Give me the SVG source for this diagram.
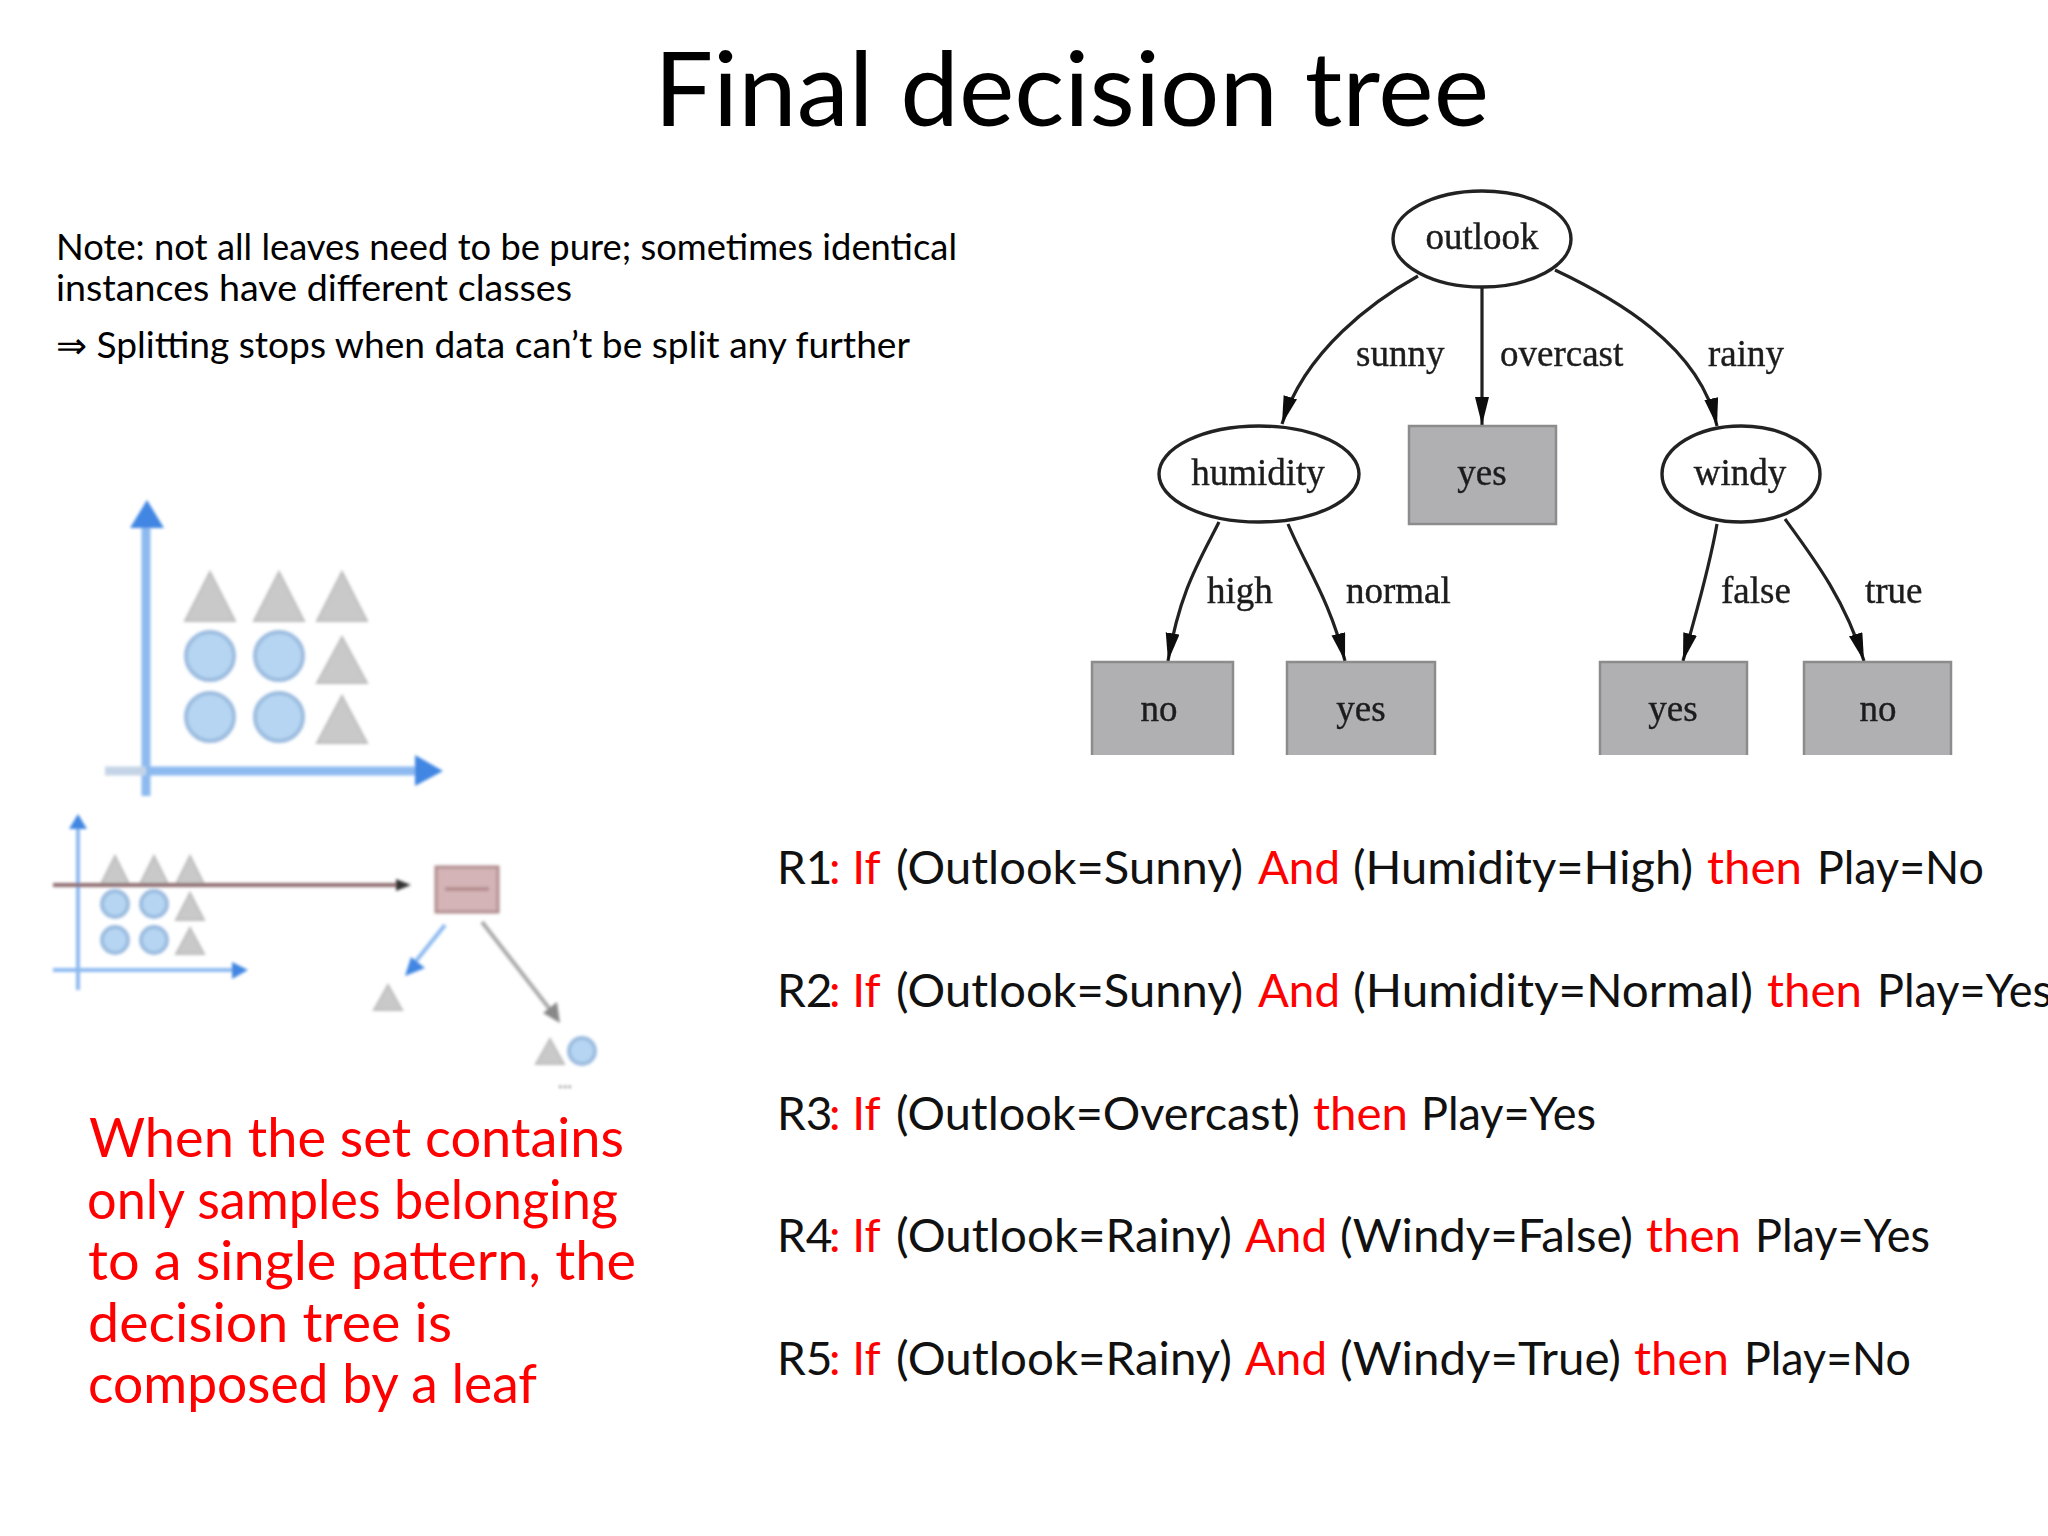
<svg xmlns="http://www.w3.org/2000/svg" width="2048" height="1536" viewBox="0 0 2048 1536">
<style>
.t{font-family:"Liberation Serif",serif;font-size:37px;fill:#1c1c1c;stroke:#1c1c1c;stroke-width:.4}
.node{fill:#fff;stroke:#222;stroke-width:3.4}
.leaf{fill:#b0b0b3;stroke:#8c8c8c;stroke-width:2.5}
.edge{fill:none;stroke:#222;stroke-width:3.2;marker-end:url(#ah)}
.note{font-family:"Lato",sans-serif;font-size:36px;fill:#000}
.red{font-family:"Lato",sans-serif;font-size:54px;fill:#f00}
.rule{font-family:"Lato",sans-serif;font-size:46px;fill:#111}
.rule .k{fill:#f00}
.tri{fill:#c9c9c9;stroke:#bdbdbd;stroke-width:2}
.cir{fill:#b5d5f2;stroke:#9bbbdf;stroke-width:4}
.ax{stroke:#8cb9f0;fill:none}
.bh{fill:#3f86e2}
</style>
<defs>
<marker id="ah" markerUnits="userSpaceOnUse" markerWidth="30" markerHeight="16" refX="28" refY="7" orient="auto"><path d="M0,0L28,7L0,14Z" fill="#111"/></marker>
<filter id="soft" x="-5%" y="-5%" width="110%" height="110%"><feGaussianBlur stdDeviation="1.5"/></filter>
<filter id="soft2" x="-5%" y="-5%" width="110%" height="110%"><feGaussianBlur stdDeviation="0.6"/></filter>
</defs>
<rect width="2048" height="1536" fill="#fff"/>
<text id="title" x="654" y="126" font-family="Lato,sans-serif" font-size="102" fill="#000" textLength="835" lengthAdjust="spacingAndGlyphs">Final decision tree</text>
<g id="note">
<text class="note" x="56" y="260" textLength="901" lengthAdjust="spacingAndGlyphs">Note: not all leaves need to be pure; sometimes identical</text>
<text class="note" x="56" y="301" textLength="516" lengthAdjust="spacingAndGlyphs">instances have different classes</text>
<text class="note" x="56" y="358" textLength="854" lengthAdjust="spacingAndGlyphs">⇒ Splitting stops when data can’t be split any further</text>
</g>
<g id="tree" filter="url(#soft2)">
<g id="connectors">
<path class="edge" d="M1418,276C1375,300 1305,350 1282,424"/>
<path class="edge" d="M1482,288V425"/>
<path class="edge" d="M1555,270C1612,297 1700,345 1717,426"/>
<path class="edge" d="M1219,522C1200,560 1180,590 1168,661"/>
<path class="edge" d="M1288,524C1305,565 1330,600 1345,661"/>
<path class="edge" d="M1717,524C1708,575 1695,615 1683,661"/>
<path class="edge" d="M1785,519C1815,560 1845,600 1864,661"/>
</g>
<g id="edge-labels">
<text class="t" x="1356" y="366">sunny</text>
<text class="t" x="1500" y="366">overcast</text>
<text class="t" x="1708" y="366">rainy</text>
<text class="t" x="1207" y="603">high</text>
<text class="t" x="1346" y="603">normal</text>
<text class="t" x="1721" y="603">false</text>
<text class="t" x="1865" y="603">true</text>
</g>
<g id="n-outlook"><ellipse class="node" cx="1482" cy="239" rx="89" ry="48"/><text class="t" x="1482" y="249" text-anchor="middle">outlook</text></g>
<g id="n-humidity"><ellipse class="node" cx="1259" cy="474" rx="100" ry="48"/><text class="t" x="1258" y="485" text-anchor="middle">humidity</text></g>
<g id="n-windy"><ellipse class="node" cx="1741" cy="474" rx="79" ry="48"/><text class="t" x="1740" y="485" text-anchor="middle">windy</text></g>
<g id="n-yes1"><rect class="leaf" x="1409" y="426" width="147" height="98"/><text class="t" x="1482" y="485" text-anchor="middle">yes</text></g>
<g id="n-no1"><path class="leaf" d="M1092,755V662H1233V755"/><text class="t" x="1159" y="721" text-anchor="middle">no</text></g>
<g id="n-yes2"><path class="leaf" d="M1287,755V662H1435V755"/><text class="t" x="1361" y="721" text-anchor="middle">yes</text></g>
<g id="n-yes3"><path class="leaf" d="M1600,755V662H1747V755"/><text class="t" x="1673" y="721" text-anchor="middle">yes</text></g>
<g id="n-no2"><path class="leaf" d="M1804,755V662H1951V755"/><text class="t" x="1878" y="721" text-anchor="middle">no</text></g>
</g>
<g id="plot-large" filter="url(#soft)">
<path class="ax" stroke-width="9" d="M146,525V796"/>
<path d="M105,771H146" stroke="#c4d4e6" stroke-width="9" fill="none"/>
<path class="ax" stroke-width="9" d="M146,771H420"/>
<path class="bh" d="M147,500L164,528H130Z"/>
<path class="bh" d="M443,771L415,755V786Z"/>
<path class="tri" d="M210,572L235,621H185Z"/><path class="tri" d="M279,572L304,621H254Z"/><path class="tri" d="M342,572L367,621H317Z"/>
<path class="tri" d="M342,637L367,683H317Z"/><path class="tri" d="M342,696L367,743H317Z"/>
<ellipse class="cir" cx="210" cy="656" rx="24" ry="24"/><ellipse class="cir" cx="279" cy="656" rx="24" ry="24"/>
<ellipse class="cir" cx="210" cy="717" rx="24" ry="24"/><ellipse class="cir" cx="279" cy="717" rx="24" ry="24"/>
</g>
<g id="plot-small" filter="url(#soft)">
<path class="ax" stroke-width="4" d="M78,825V990"/>
<path class="ax" stroke-width="4" d="M53,970H236"/>
<path class="bh" d="M78,814L87,829H69Z"/>
<path class="bh" d="M248,970L232,962V979Z"/>
<path class="tri" d="M115,856L129,884H101Z"/><path class="tri" d="M154,856L168,884H140Z"/><path class="tri" d="M190,856L204,884H176Z"/>
<path class="tri" d="M190,893L204,920H176Z"/><path class="tri" d="M190,928L204,954H176Z"/>
<circle class="cir" cx="115" cy="904" r="13"/><circle class="cir" cx="154" cy="904" r="13"/>
<circle class="cir" cx="115" cy="940" r="13"/><circle class="cir" cx="154" cy="940" r="13"/>
<path d="M53,885H400" stroke="#8e6c70" stroke-width="4" fill="none"/>
<path d="M411,885L396,879V891Z" fill="#333"/>
</g>
<g id="split" filter="url(#soft)">
<rect x="436" y="867" width="62" height="45" fill="#d4b4b6" stroke="#b08c8e" stroke-width="3"/>
<path d="M445,889H489" stroke="#b58d90" stroke-width="4"/>
<path d="M445,925L412,966" stroke="#8cb9f0" stroke-width="4" fill="none"/>
<path d="M405,976L425,968L411,957Z" class="bh"/>
<path d="M482,922L552,1012" stroke="#a9a9a9" stroke-width="4" fill="none"/>
<path d="M560,1023L543,1013L557,1002Z" fill="#888"/>
<path class="tri" d="M388,985L402,1010H374Z"/>
<path class="tri" d="M550,1039L564,1064H536Z"/>
<circle class="cir" cx="582" cy="1051" r="13"/>
<text x="565" y="1088" font-family="Lato,sans-serif" font-size="20" fill="#777" text-anchor="middle">...</text>
</g>
<g id="caption">
<text class="red" x="89" y="1157" textLength="535" lengthAdjust="spacingAndGlyphs">When the set contains</text>
<text class="red" x="87" y="1219" textLength="531" lengthAdjust="spacingAndGlyphs">only samples belonging</text>
<text class="red" x="88" y="1280" textLength="548" lengthAdjust="spacingAndGlyphs">to a single pattern, the</text>
<text class="red" x="88" y="1342" textLength="364" lengthAdjust="spacingAndGlyphs">decision tree is</text>
<text class="red" x="88" y="1403" textLength="449" lengthAdjust="spacingAndGlyphs">composed by a leaf</text>
</g>
<g id="rules">
<text class="rule" y="884"><tspan x="777">R1</tspan><tspan class="k" x="829">: If</tspan><tspan x="896" textLength="347" lengthAdjust="spacingAndGlyphs">(Outlook=Sunny)</tspan><tspan class="k" x="1258" textLength="82" lengthAdjust="spacingAndGlyphs">And</tspan><tspan x="1353" textLength="340" lengthAdjust="spacingAndGlyphs">(Humidity=High)</tspan><tspan class="k" x="1707" textLength="95" lengthAdjust="spacingAndGlyphs">then</tspan><tspan x="1817" textLength="167" lengthAdjust="spacingAndGlyphs">Play=No</tspan></text>
<text class="rule" y="1007"><tspan x="777">R2</tspan><tspan class="k" x="829">: If</tspan><tspan x="896" textLength="347" lengthAdjust="spacingAndGlyphs">(Outlook=Sunny)</tspan><tspan class="k" x="1258" textLength="82" lengthAdjust="spacingAndGlyphs">And</tspan><tspan x="1353" textLength="400" lengthAdjust="spacingAndGlyphs">(Humidity=Normal)</tspan><tspan class="k" x="1767" textLength="95" lengthAdjust="spacingAndGlyphs">then</tspan><tspan x="1877" textLength="175" lengthAdjust="spacingAndGlyphs">Play=Yes</tspan></text>
<text class="rule" y="1130"><tspan x="777">R3</tspan><tspan class="k" x="829">: If</tspan><tspan x="896" textLength="404" lengthAdjust="spacingAndGlyphs">(Outlook=Overcast)</tspan><tspan class="k" x="1313" textLength="95" lengthAdjust="spacingAndGlyphs">then</tspan><tspan x="1421" textLength="175" lengthAdjust="spacingAndGlyphs">Play=Yes</tspan></text>
<text class="rule" y="1252"><tspan x="777">R4</tspan><tspan class="k" x="829">: If</tspan><tspan x="896" textLength="336" lengthAdjust="spacingAndGlyphs">(Outlook=Rainy)</tspan><tspan class="k" x="1245" textLength="82" lengthAdjust="spacingAndGlyphs">And</tspan><tspan x="1340" textLength="293" lengthAdjust="spacingAndGlyphs">(Windy=False)</tspan><tspan class="k" x="1646" textLength="95" lengthAdjust="spacingAndGlyphs">then</tspan><tspan x="1755" textLength="175" lengthAdjust="spacingAndGlyphs">Play=Yes</tspan></text>
<text class="rule" y="1375"><tspan x="777">R5</tspan><tspan class="k" x="829">: If</tspan><tspan x="896" textLength="336" lengthAdjust="spacingAndGlyphs">(Outlook=Rainy)</tspan><tspan class="k" x="1245" textLength="82" lengthAdjust="spacingAndGlyphs">And</tspan><tspan x="1340" textLength="281" lengthAdjust="spacingAndGlyphs">(Windy=True)</tspan><tspan class="k" x="1634" textLength="95" lengthAdjust="spacingAndGlyphs">then</tspan><tspan x="1744" textLength="167" lengthAdjust="spacingAndGlyphs">Play=No</tspan></text>
</g>
</svg>
